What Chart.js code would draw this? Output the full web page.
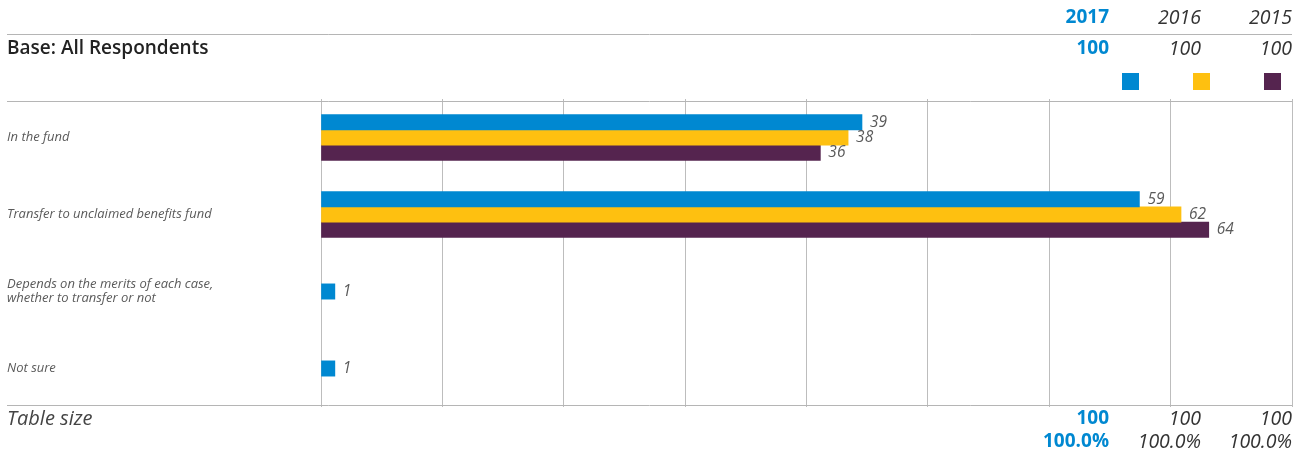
<!DOCTYPE html>
<html>
<head>
<meta charset="utf-8">
<script src="https://cdn.jsdelivr.net/npm/chart.js@4"></script>
<style>
  body { margin: 0; background: #fff; }
  #wrap { position: relative; width: 1306px; height: 452px; }
</style>
</head>
<body>
<div id="wrap"><canvas id="myChart" width="1306" height="452"></canvas></div>
<script>
// data
const categories = [
  'In the fund',
  'Transfer to unclaimed benefits fund',
  ['Depends on the merits of each case,', 'whether to transfer or not'],
  'Not sure'
];
const years = ['2017', '2016', '2015'];
const values2017 = [39, 59, 1, 1];
const values2016 = [38, 62, null, null];
const values2015 = [36, 64, null, null];
const baseValues = ['100', '100', '100'];
const tableSize = ['100', '100', '100'];
const tablePct = ['100.0%', '100.0%', '100.0%'];

const colors = ['#0088d1', '#fec010', '#55244f'];
const FONT = '"Open Sans", Lato, sans-serif';
const grey = '#5a5a5a';

// header + footer text and the value labels
const extras = {
  id: 'extras',
  afterDatasetsDraw(chart) {
    const c = chart.ctx;
    const area = chart.chartArea;
    c.save();

    // value labels beside the bars
    c.font = 'italic 15.5px ' + FONT;
    c.fillStyle = grey;
    c.textAlign = 'left';
    c.textBaseline = 'middle';
    chart.data.datasets.forEach((ds, i) => {
      chart.getDatasetMeta(i).data.forEach((bar, j) => {
        if (ds.data[j] == null) return;
        c.fillText(ds.data[j], bar.x + 8, bar.y);
      });
    });

    // horizontal rules
    c.strokeStyle = '#b5b5b5';
    c.lineWidth = 1;
    [34.5, 101.5, 405.5].forEach(y => {
      c.beginPath();
      c.moveTo(7, y);
      c.lineTo(area.right, y);
      c.stroke();
    });

    const colRight = [1109, 1201, 1292];
    c.textAlign = 'right';
    c.textBaseline = 'middle';
    years.forEach((y, i) => {
      if (i === 0) { c.font = 'bold 19px ' + FONT; c.fillStyle = colors[0]; }
      else { c.font = 'italic 19.5px ' + FONT; c.fillStyle = '#333'; }
      c.fillText(y, colRight[i], 18);
      c.fillText(baseValues[i], colRight[i], 49);
      c.fillText(tableSize[i], colRight[i], 419);
      c.fillText(tablePct[i], colRight[i], 442);
    });

    // legend squares
    const sqX = [1122, 1193, 1264];
    colors.forEach((col, i) => {
      c.fillStyle = col;
      c.fillRect(sqX[i], 73, 17, 17);
    });

    c.textAlign = 'left';
    c.fillStyle = '#222';
    c.font = '600 19px ' + FONT;
    c.fillText('Base: All Respondents', 7, 49);
    c.fillStyle = '#444';
    c.font = 'italic 20px ' + FONT;
    c.fillText('Table size', 7, 419);

    c.restore();
  }
};

const ctx = document.getElementById('myChart');

new Chart(ctx, {
  type: 'bar',
  data: {
    labels: categories,
    datasets: [
      { label: years[0], data: values2017, backgroundColor: colors[0] },
      { label: years[1], data: values2016, backgroundColor: colors[1] },
      { label: years[2], data: values2015, backgroundColor: colors[2] }
    ]
  },
  options: {
    indexAxis: 'y',
    responsive: false,
    animation: false,
    skipNull: true,
    barThickness: 15.3,
    layout: { padding: { left: 7, right: 14, top: 99, bottom: 45 } },
    plugins: {
      legend: { display: false },
      tooltip: { enabled: false }
    },
    scales: {
      x: {
        min: 0,
        max: 70,
        ticks: { display: false, stepSize: 8.75 },
        grid: { color: '#bdbdbd', drawTicks: false },
        border: { display: false }
      },
      y: {
        grid: { display: false },
        border: { display: false },
        ticks: {
          crossAlign: 'far',
          color: grey,
          font: { family: FONT, style: 'italic', size: 13, lineHeight: 1.05 }
        },
        afterFit(scale) { scale.width = 314; }
      }
    }
  },
  plugins: [extras]
});
</script>
</body>
</html>
